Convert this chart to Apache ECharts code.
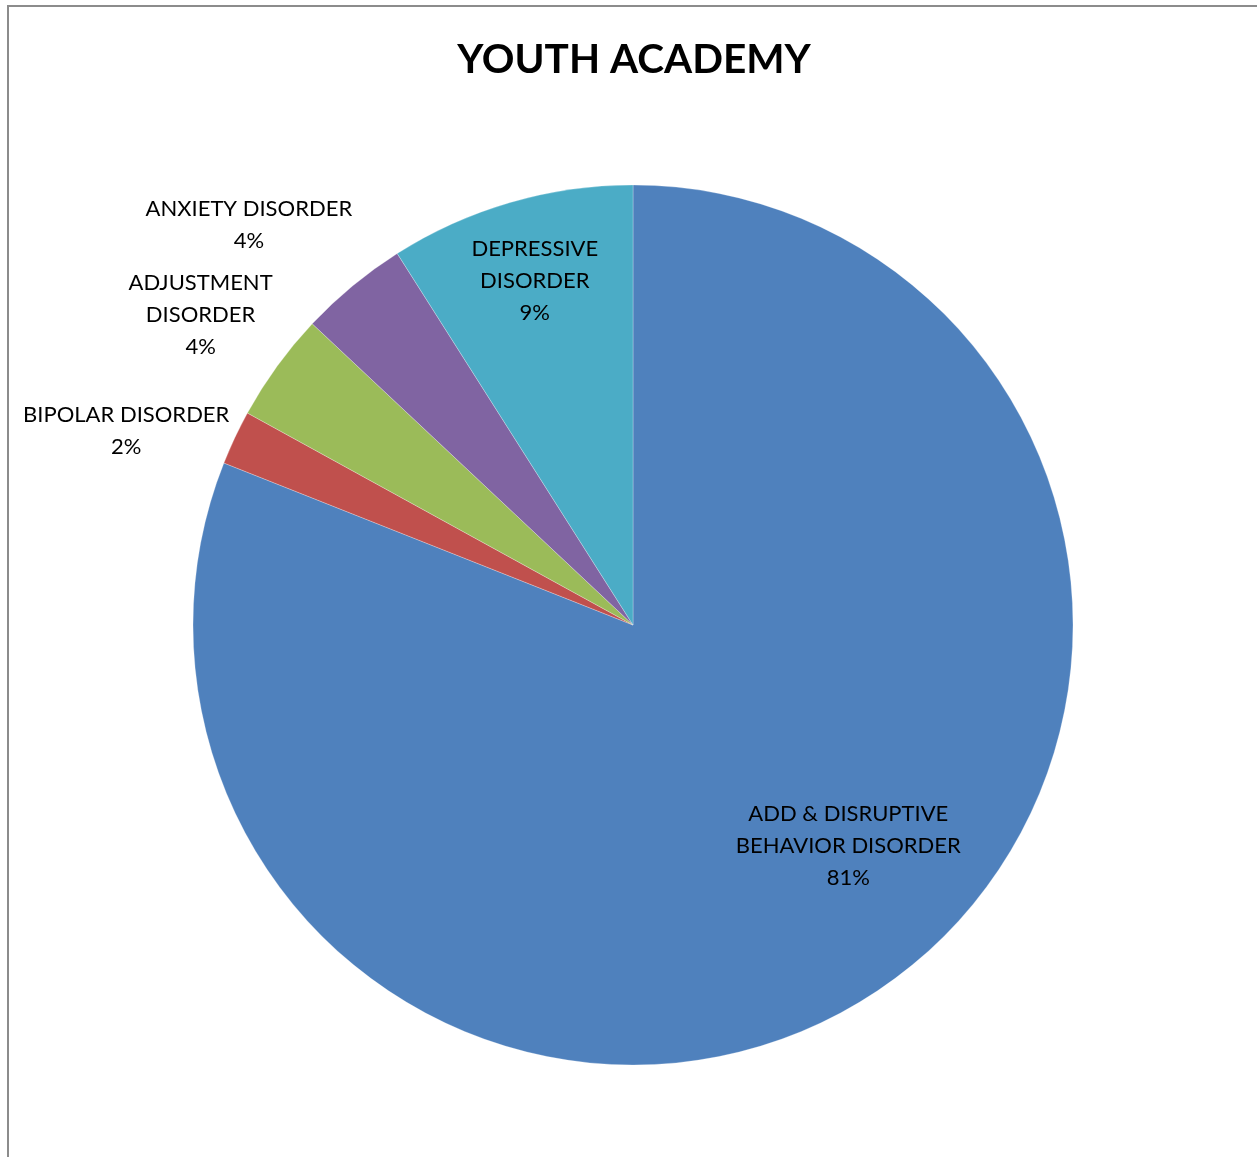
<!DOCTYPE html>
<html>
<head>
<meta charset="utf-8">
<title>YOUTH ACADEMY</title>
<script src="https://cdn.jsdelivr.net/npm/echarts@6/dist/echarts.min.js"></script>
<style>
  html, body { margin: 0; padding: 0; background: #ffffff; overflow: hidden; }
  #wrap { position: relative; width: 1257px; height: 1157px; }
  #chart { position: absolute; left: 0; top: 0; width: 1257px; height: 1157px; }
  #frame {
    position: absolute; left: 7px; top: 5px; width: 1300px; height: 1200px;
    border-left: 2px solid #8c8c8c; border-top: 2px solid #8c8c8c;
    pointer-events: none;
  }
</style>
</head>
<body>
<div id="wrap">
  <div id="chart"></div>
  <div id="frame"></div>
</div>
<script>
// Diagnosis groups (label text keeps its own line breaks)
const categories = [
  'ADD & DISRUPTIVE\nBEHAVIOR DISORDER',
  'BIPOLAR DISORDER',
  'ADJUSTMENT\nDISORDER',
  'ANXIETY DISORDER',
  'DEPRESSIVE\nDISORDER'
];
// Share of students per group, in percent
const shares = [81, 2, 4, 4, 9];
// Office-style slice colours
const colors = ['#4F81BD', '#C0504D', '#9BBB59', '#8064A2', '#4BACC6'];
// Nudges that move each label from the slice's mid-radius point
const labelOffsets = [[90, 36], [-305, -99], [-252, -179], [-242, -228], [-36, -130]];

const FONT = 'Lato, "Open Sans", sans-serif';

const chart = echarts.init(document.getElementById('chart'), null, { renderer: 'canvas' });

const data = categories.map((name, i) => ({
  name: name,
  value: shares[i],
  itemStyle: { color: colors[i] },
  label: { offset: labelOffsets[i] }
}));

chart.setOption({
  animation: false,
  backgroundColor: '#ffffff',
  title: {
    text: 'YOUTH ACADEMY',
    left: 629,
    textAlign: 'center',
    top: 34,
    textStyle: { fontFamily: FONT, fontSize: 40.5, fontWeight: 'bold', color: '#000000' }
  },
  series: [{
    type: 'pie',
    center: [633, 625],
    radius: [0, 440],
    startAngle: 90,
    clockwise: true,
    avoidLabelOverlap: false,
    silent: true,
    itemStyle: { borderColor: 'rgba(255,255,255,0.5)', borderWidth: 0.5 },
    label: {
      show: true,
      position: 'inside',
      formatter: '{b}\n{d}%',
      fontFamily: FONT,
      fontSize: 22,
      lineHeight: 32,
      color: '#000000',
      align: 'center'
    },
    labelLine: { show: false },
    data: data
  }]
});
</script>
</body>
</html>
